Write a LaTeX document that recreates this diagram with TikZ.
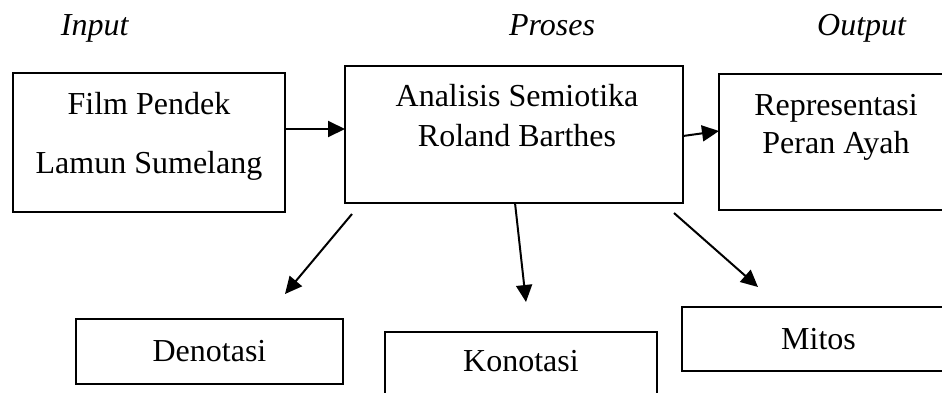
\documentclass[tikz,border=0pt]{standalone}
\usepackage{fontspec}
\setmainfont{Liberation Serif}
\usetikzlibrary{arrows.meta}

\begin{document}
\begin{tikzpicture}[x=0.5pt, y=-0.5pt,
        every node/.style={font=\fontsize{16}{19}\selectfont},
        box/.style={draw, line width=1.2pt, outer sep=0pt, inner sep=0pt},
        txt/.style={align=center, inner sep=0pt},
        arr/.style={line width=1pt, -{Triangle[length=8.5pt, width=8pt]}}]
        \useasboundingbox (0, 0) rectangle (942, 392);
        \clip (0, 0) rectangle (942, 392);

        % judul kolom
        \node [anchor=base] (input) at (95, 35) {\textit{Input}};
        \node [anchor=base] (proses) at (552, 35) {\textit{Proses}};
        \node [anchor=base] (output) at (862, 35) {\textit{Output}};

        % kotak baris atas
        \node [box, minimum width=136pt, minimum height=69.5pt,
            label={[txt, anchor=north, yshift=-9.5pt]north:{Film Pendek\\[10.5pt]Lamun Sumelang}}]
            (film) at (149, 142.5) {};
        \node [box, minimum width=169pt, minimum height=68.5pt,
            label={[txt, anchor=north, xshift=1.5pt, yshift=-9pt]north:{Analisis Semiotika\\[1pt]Roland Barthes}}]
            (ana) at (514, 134.5) {};
        \node [box, minimum width=117pt, minimum height=68pt,
            label={[txt, anchor=north, yshift=-10pt]north:{Representasi\\Peran Ayah}}]
            (rep) at (836, 142) {};

        % kotak baris bawah
        \node [box, minimum width=133.5pt, minimum height=32.5pt] (deno) at (209.5, 351.5) {Denotasi};
        \node [box, minimum width=136pt, minimum height=40pt,
            label={[txt, yshift=5.25pt]center:Konotasi}]
            (kono) at (521, 372) {};
        \node [box, minimum width=136.5pt, minimum height=32pt] (mitos) at (818.5, 339) {Mitos};

        % panah
        \draw [arr] ([yshift=6.75pt]film.east) -- ([yshift=2.75pt]ana.west);
        \draw [arr] ([yshift=-0.75pt]ana.east) -- ([yshift=5.5pt]rep.west);
        \draw [arr] ([shift={(3.5pt, -5.5pt)}]ana.south west) -- ([shift={(37.75pt, 12.5pt)}]deno.north);
        \draw [arr] ([xshift=0.5pt]ana.south) -- ([shift={(2.5pt, 15pt)}]kono.north);
        \draw [arr] ([shift={(-4.5pt, -5pt)}]ana.south east) -- ([shift={(38pt, 10pt)}]mitos.north west);
    \end{tikzpicture}
\end{document}
